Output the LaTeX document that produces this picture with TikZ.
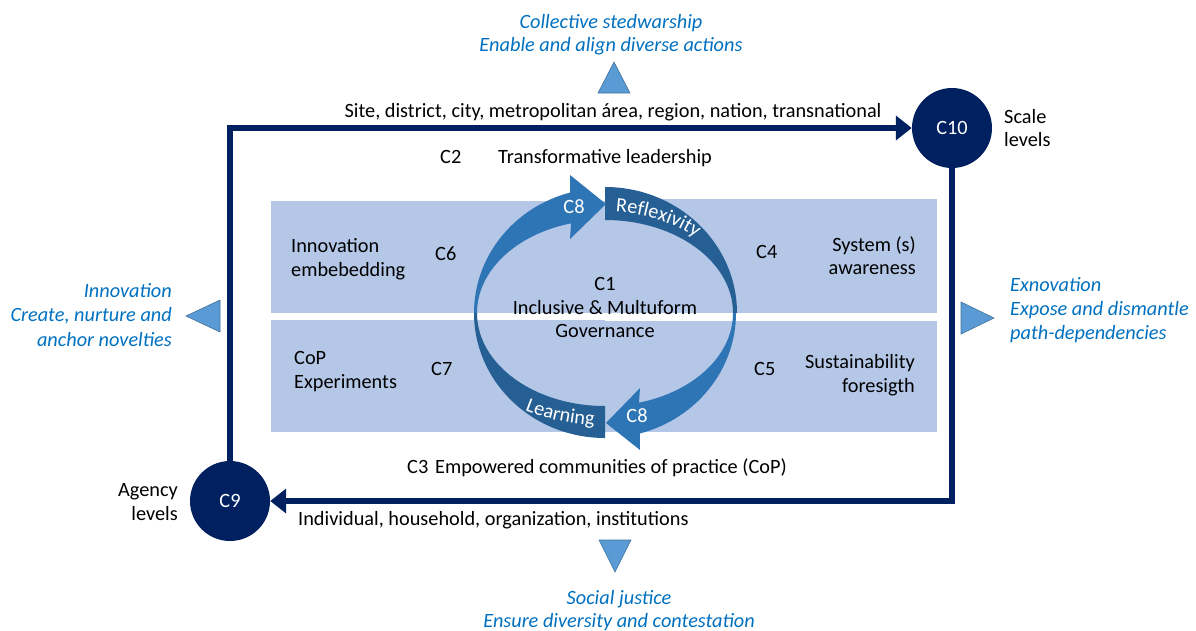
\documentclass[tikz,border=0pt]{standalone}
\usepackage{fontspec}
\setmainfont{Carlito}
\usetikzlibrary{arrows.meta,decorations.text}
\definecolor{navy}{HTML}{002060}
\definecolor{panel}{HTML}{B4C7E7}
\definecolor{ringlight}{HTML}{2E75B6}
\definecolor{ringdark}{HTML}{265F94}
\definecolor{tri}{HTML}{5B9BD5}
\definecolor{triedge}{HTML}{41719C}
\definecolor{note}{HTML}{0070C0}
\newcommand{\fsz}{\fontsize{20.3}{24}\selectfont}
\begin{document}
\begin{tikzpicture}[x=1pt,y=-1pt,
  txt/.style={inner sep=0pt,font=\fsz},
  notetxt/.style={inner sep=0pt,text=note,font=\fsz\itshape},
  hub/.style={circle,fill=navy,minimum size=80pt,inner sep=0pt,text=white,font=\fsz},
  frameline/.style={draw=navy,line width=6.5pt,line join=miter,-{Triangle[length=16pt,width=24pt]}},
  marker/.style={fill=tri,draw=triedge,line width=0.6pt,line join=miter},
  ringtext/.style={decorate,decoration={text along path,text align=left,text color=white}}]
\useasboundingbox (0,0) rectangle (1196,630);

% background panels
\fill[panel] (271,201) rectangle (605,313);
\fill[panel] (605,199) rectangle (937,313);
\fill[panel] (271,320) rectangle (605,432);
\fill[panel] (605,321) rectangle (937,432);

% governance ring: two arrows and two bands
\def\cx{605}\def\cy{313}
\fill[ringdark] ([shift={(\cx,\cy)}]270:132 and 126)
  arc[start angle=270,end angle=360,x radius=132,y radius=126]
  -- ([shift={(\cx,\cy)}]360:128 and 93)
  arc[start angle=360,end angle=270,x radius=128,y radius=93] -- cycle;
\fill[ringdark] ([shift={(\cx,\cy)}]90:131 and 125)
  arc[start angle=90,end angle=180,x radius=131,y radius=125]
  -- ([shift={(\cx,\cy)}]180:128 and 93)
  arc[start angle=180,end angle=90,x radius=128,y radius=93] -- cycle;
\fill[ringlight] ([shift={(\cx,\cy)}]180:131 and 125)
  arc[start angle=180,end angle=254.6,x radius=131,y radius=125]
  -- (570,175) -- (606,204) -- (570,239)
  -- ([shift={(\cx,\cy)}]254.6:128 and 93)
  arc[start angle=254.6,end angle=180,x radius=128,y radius=93] -- cycle;
\fill[ringlight] ([shift={(\cx,\cy)}]0:131 and 125)
  arc[start angle=0,end angle=74.6,x radius=131,y radius=125]
  -- (640,450) -- (606,423) -- (640,388)
  -- ([shift={(\cx,\cy)}]74.6:128 and 93)
  arc[start angle=74.6,end angle=0,x radius=128,y radius=93] -- cycle;

% curved band labels
\path[ringtext,decoration={text={|\fsz|Reflexivity}}]
  ([shift={(\cx,\cy)}]274.5:135 and 101.5)
  arc[start angle=274.5,end angle=335,x radius=135,y radius=101.5];
\path[ringtext,decoration={text={|\fsz|Learning}}]
  ([shift={(\cx,\cy)}]120:160 and 112.5)
  arc[start angle=120,end angle=75,x radius=160,y radius=112.5];
\node[txt,text=white] (c8top) at (574,207) {C8};
\node[txt,text=white] (c8bot) at (637,416) {C8};

% centre
\node[txt,anchor=base] (c1a) at (605,290) {C1};
\node[txt,anchor=base] (c1b) at (605,314) {Inclusive \& Multuform};
\node[txt,anchor=base] (c1c) at (605,337) {Governance};

% panel labels
\node[txt,anchor=base west] (c6a) at (291,252) {Innovation};
\node[txt,anchor=base west] (c6b) at (291,276) {embebedding};
\node[txt,anchor=base west] (c6) at (435,260) {C6};
\node[txt,anchor=base east] (c4a) at (916,251) {System (s)};
\node[txt,anchor=base east] (c4b) at (916,274) {awareness};
\node[txt,anchor=base west] (c4) at (756,258) {C4};
\node[txt,anchor=base west] (c7a) at (294,364) {CoP};
\node[txt,anchor=base west] (c7b) at (294,388) {Experiments};
\node[txt,anchor=base west] (c7) at (431,375) {C7};
\node[txt,anchor=base east] (c5a) at (915,368) {Sustainability};
\node[txt,anchor=base east] (c5b) at (915,392) {foresigth};
\node[txt,anchor=base west] (c5) at (754,375) {C5};

\node[txt,anchor=base west] (c2) at (440,163) {C2};
\node[txt,anchor=base west] (c2t) at (498,163) {Transformative leadership};
\node[txt,anchor=base west] (c3) at (407,473) {C3};
\node[txt,anchor=base west] (c3t) at (435,473) {Empowered communities of practice (CoP)};

% scale and agency loop
\node[hub] (C10) at (952,128) {C10};
\node[hub] (C9) at (230,501) {C9};
\draw[frameline] (C9) |- (C10);
\draw[frameline] (C10) |- (C9);
\node[txt,anchor=base] (scales) at (613,117) {Site, district, city, metropolitan área, region, nation, transnational};
\node[txt,anchor=base west] (agents) at (298,525) {Individual, household, organization, institutions};
\node[txt,anchor=base west] (scl1) at (1004,123) {Scale};
\node[txt,anchor=base west] (scl2) at (1004,146) {levels};
\node[txt,anchor=base east] (agl1) at (178,496) {Agency};
\node[txt,anchor=base east] (agl2) at (178,520) {levels};

% outward markers
\fill[marker] (614,62) -- (630,93) -- (598,93) -- cycle;
\fill[marker] (615,572) -- (631,540) -- (599,540) -- cycle;
\fill[marker] (186,316) -- (220,300) -- (220,332) -- cycle;
\fill[marker] (994,318) -- (961,302) -- (961,334) -- cycle;

% outcome notes
\node[notetxt,anchor=base] (top1) at (611,28) {Collective stedwarship};
\node[notetxt,anchor=base] (top2) at (611,51) {Enable and align diverse actions};
\node[notetxt,anchor=base east] (lft1) at (172,297) {Innovation};
\node[notetxt,anchor=base east] (lft2) at (172,321) {Create, nurture and};
\node[notetxt,anchor=base east] (lft3) at (172,346) {anchor novelties};
\node[notetxt,anchor=base west] (rgt1) at (1010,291) {Exnovation};
\node[notetxt,anchor=base west] (rgt2) at (1010,315) {Expose and dismantle};
\node[notetxt,anchor=base west] (rgt3) at (1010,339) {path-dependencies};
\node[notetxt,anchor=base] (bot1) at (619,604) {Social justice};
\node[notetxt,anchor=base] (bot2) at (619,627) {Ensure diversity and contestation};
\end{tikzpicture}
\end{document}
